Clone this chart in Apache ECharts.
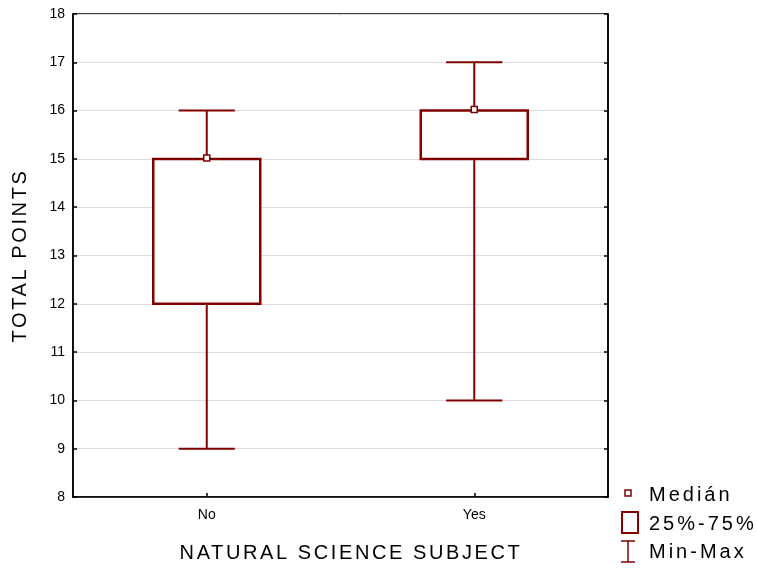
<!DOCTYPE html>
<html>
<head>
<meta charset="utf-8">
<script src="https://cdn.jsdelivr.net/npm/echarts@6/dist/echarts.min.js"></script>
<style>html,body{margin:0;padding:0;background:#fff}#c{width:757px;height:570px}</style>
</head>
<body>
<div id="c"></div>
<script>
// ---- data ----
const categories = ['No', 'Yes'];
const minVals = [9, 10];
const q1Vals = [12, 15];
const medianVals = [15, 16];
const q3Vals = [15, 16];
const maxVals = [16, 17];
const yTicks = [8, 9, 10, 11, 12, 13, 14, 15, 16, 17, 18];
const xTitle = 'NATURAL SCIENCE SUBJECT';
const yTitle = 'TOTAL POINTS';
const legendLabels = ['Medián', '25%-75%', 'Min-Max'];

// Statistica-like letter spacing for some canvas texts
const LETTER_SPACING = {};
LETTER_SPACING[xTitle] = 2.6;
LETTER_SPACING[yTitle] = 2.6;
legendLabels.forEach(t => { LETTER_SPACING[t] = 3; });
(function () {
  const P = CanvasRenderingContext2D.prototype;
  const orig = P.fillText;
  P.fillText = function (t, x, y, m) {
    const sp = LETTER_SPACING[t] || 0;
    try { this.letterSpacing = sp + 'px'; } catch (e) {}
    const r = m === undefined ? orig.call(this, t, x, y) : orig.call(this, t, x, y, m);
    try { this.letterSpacing = '0px'; } catch (e) {}
    return r;
  };
})();

const RED = '#800000';
const FONT = 'Liberation Sans, Arial, sans-serif';
const chart = echarts.init(document.getElementById('c'), null, { renderer: 'canvas' });

const boxData = categories.map((c, i) => [i, minVals[i], q1Vals[i], medianVals[i], q3Vals[i], maxVals[i]]);

chart.setOption({
  animation: false,
  backgroundColor: '#fff',
  grid: { left: 73, top: 14, right: 149, bottom: 73, show: true, borderColor: '#000', borderWidth: 1.5, backgroundColor: 'transparent' },
  xAxis: {
    type: 'category',
    data: categories,
    axisLine: { show: true, lineStyle: { color: '#000', width: 1.5 } },
    axisTick: { show: true, inside: true, alignWithLabel: true, length: 4, lineStyle: { color: '#000', width: 1.5 } },
    axisLabel: { color: '#000', fontSize: 14, fontFamily: FONT, margin: 11 },
    splitLine: { show: false }
  },
  yAxis: [{
    type: 'value',
    min: yTicks[0], max: yTicks[yTicks.length - 1], interval: 1,
    name: yTitle, nameLocation: 'middle', nameGap: 43,
    nameTextStyle: { color: '#000', fontSize: 20, fontFamily: FONT },
    axisLine: { show: true, lineStyle: { color: '#000', width: 1.5 } },
    axisTick: { show: true, inside: true, length: 4, lineStyle: { color: '#000', width: 1.5 } },
    axisLabel: { color: '#000', fontSize: 14, fontFamily: FONT, margin: 8 },
    splitLine: { show: true, lineStyle: { color: '#dcdcdc', width: 1 } }
  }, {
    type: 'value', position: 'right',
    min: yTicks[0], max: yTicks[yTicks.length - 1], interval: 1,
    axisLine: { show: true, lineStyle: { color: '#000', width: 1.5 } },
    axisTick: { show: true, inside: true, length: 4, lineStyle: { color: '#000', width: 1.5 } },
    axisLabel: { show: false },
    splitLine: { show: false }
  }],
  series: [{
    type: 'custom',
    data: boxData,
    encode: { x: 0, y: [1, 2, 3, 4, 5] },
    renderItem: function (params, api) {
      const i = api.value(0);
      const band = api.size([1, 0])[0];
      const bw = band * 0.4, cw = band * 0.21;
      const pMin = api.coord([i, api.value(1)]);
      const pQ1 = api.coord([i, api.value(2)]);
      const pMed = api.coord([i, api.value(3)]);
      const pQ3 = api.coord([i, api.value(4)]);
      const pMax = api.coord([i, api.value(5)]);
      const cx = pMin[0];
      const ls = { stroke: RED, lineWidth: 2, fill: null };
      return {
        type: 'group',
        children: [
          { type: 'line', shape: { x1: cx, y1: pMin[1], x2: cx, y2: pQ1[1] }, style: ls },
          { type: 'line', shape: { x1: cx, y1: pQ3[1], x2: cx, y2: pMax[1] }, style: ls },
          { type: 'line', shape: { x1: cx - cw / 2, y1: pMin[1], x2: cx + cw / 2, y2: pMin[1] }, style: ls },
          { type: 'line', shape: { x1: cx - cw / 2, y1: pMax[1], x2: cx + cw / 2, y2: pMax[1] }, style: ls },
          { type: 'rect', shape: { x: cx - bw / 2, y: pQ3[1], width: bw, height: pQ1[1] - pQ3[1] }, style: { stroke: RED, lineWidth: 2.5, fill: '#fff' } },
          { type: 'rect', shape: { x: cx - 3, y: pMed[1] - 4, width: 6, height: 6 }, style: { stroke: RED, lineWidth: 1.5, fill: '#fff' } }
        ]
      };
    }
  }],
  graphic: [
    { type: 'text', style: { text: xTitle, x: 351, y: 553, align: 'center', verticalAlign: 'middle', fill: '#000', font: '20px ' + FONT } },
    { type: 'rect', shape: { x: 625, y: 490, width: 6, height: 6 }, style: { stroke: RED, lineWidth: 1.5, fill: '#fff' } },
    { type: 'rect', shape: { x: 622, y: 512, width: 16, height: 21 }, style: { stroke: RED, lineWidth: 2, fill: '#fff' } },
    { type: 'line', shape: { x1: 628, y1: 541, x2: 628, y2: 562 }, style: { stroke: RED, lineWidth: 1.5 } },
    { type: 'line', shape: { x1: 621, y1: 541, x2: 635, y2: 541 }, style: { stroke: RED, lineWidth: 1.5 } },
    { type: 'line', shape: { x1: 621, y1: 562, x2: 635, y2: 562 }, style: { stroke: RED, lineWidth: 1.5 } },
    { type: 'text', style: { text: legendLabels[0], x: 649, y: 495, verticalAlign: 'middle', fill: '#000', font: '20px ' + FONT } },
    { type: 'text', style: { text: legendLabels[1], x: 649, y: 524, verticalAlign: 'middle', fill: '#000', font: '20px ' + FONT } },
    { type: 'text', style: { text: legendLabels[2], x: 649, y: 552, verticalAlign: 'middle', fill: '#000', font: '20px ' + FONT } }
  ]
});
</script>
</body>
</html>
